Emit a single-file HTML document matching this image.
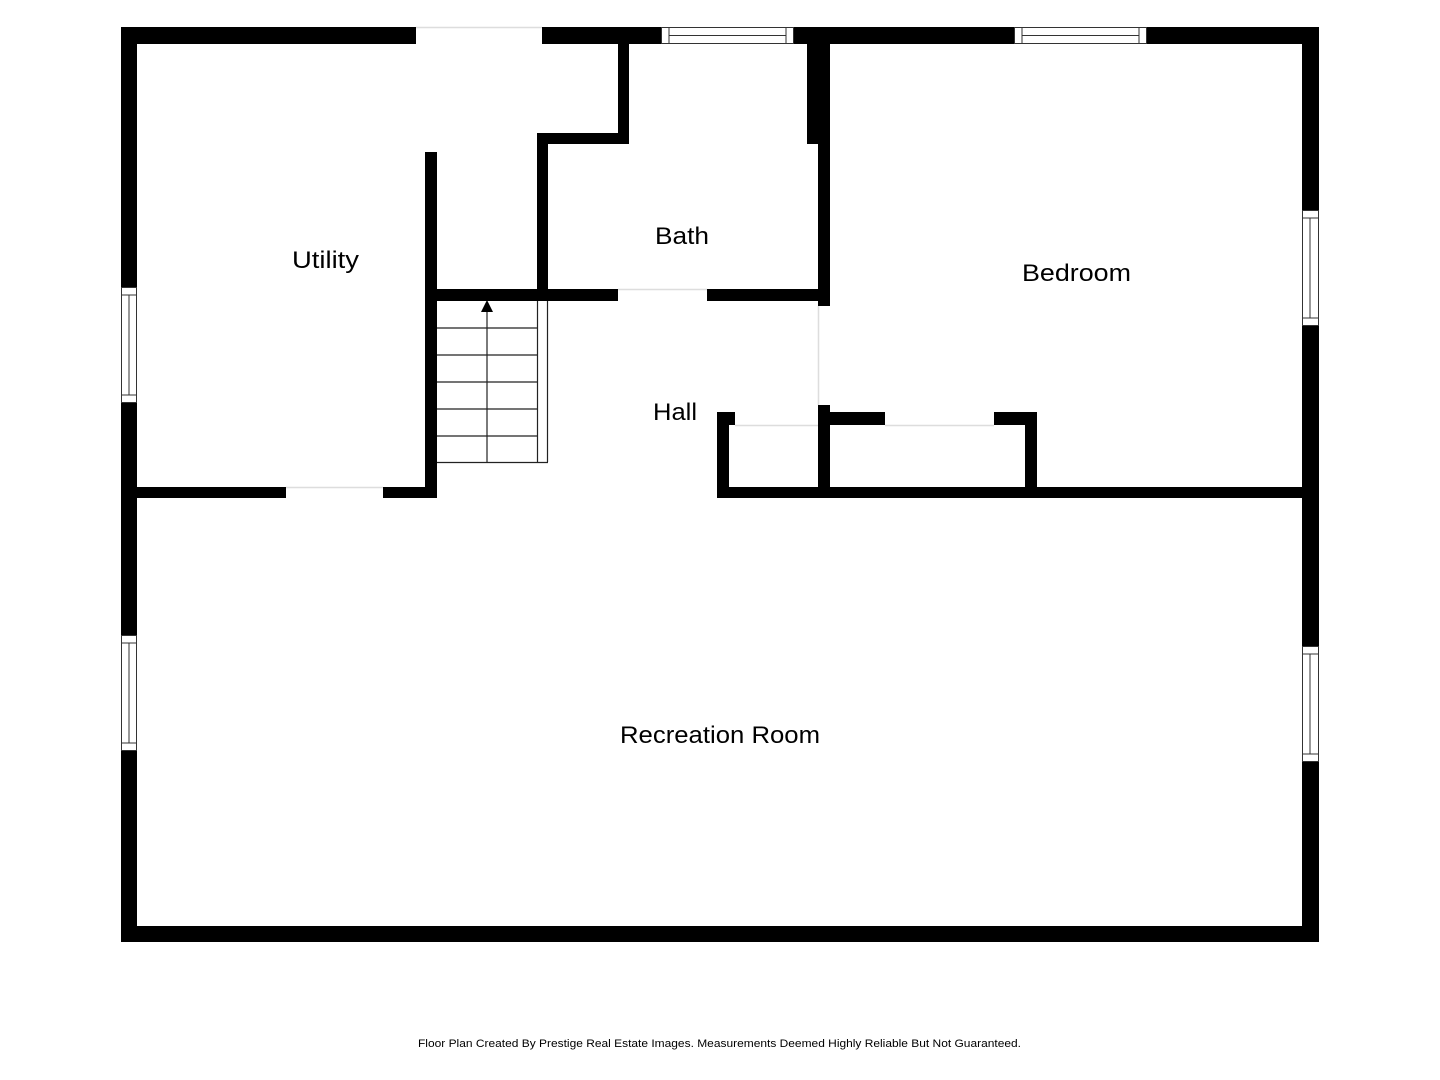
<!DOCTYPE html>
<html><head><meta charset="utf-8"><style>
html,body{margin:0;padding:0;background:#fff;}
svg{display:block;}
text{font-family:"Liberation Sans",sans-serif;fill:#000;}
</style></head><body>
<svg width="1440" height="1080" viewBox="0 0 1440 1080" xmlns="http://www.w3.org/2000/svg">
<rect width="1440" height="1080" fill="#fff"/>
<g fill="#000">
<rect x="121" y="27" width="1198" height="17"/>
<rect x="121" y="926" width="1198" height="16"/>
<rect x="121" y="27" width="16" height="915"/>
<rect x="1302" y="27" width="17" height="915"/>
<rect x="425" y="152" width="12" height="346"/>
<rect x="137" y="487" width="300" height="11"/>
<rect x="425" y="289" width="193" height="12"/>
<rect x="707" y="289" width="122" height="12"/>
<rect x="618" y="44" width="11" height="100"/>
<rect x="537" y="133" width="92" height="11"/>
<rect x="537" y="133" width="11" height="168"/>
<rect x="807" y="44" width="23" height="100"/>
<rect x="818" y="144" width="12" height="162"/>
<rect x="717" y="412" width="18" height="13"/>
<rect x="717" y="412" width="12" height="86"/>
<rect x="717" y="487" width="585" height="11"/>
<rect x="818" y="405" width="12" height="93"/>
<rect x="830" y="412" width="55" height="13"/>
<rect x="994" y="412" width="43" height="13"/>
<rect x="1025" y="412" width="12" height="86"/>
</g>
<g fill="#fff">
<rect x="416" y="26" width="126" height="19"/>
<rect x="286" y="486" width="97" height="13"/>
<rect x="618" y="288" width="89" height="14"/>
</g>
<g stroke="#ddd" stroke-width="1.5" fill="none">
<line x1="416" y1="27.5" x2="542" y2="27.5"/>
<line x1="286" y1="487.5" x2="383" y2="487.5"/>
<line x1="618" y1="289.5" x2="707" y2="289.5"/>
<line x1="818.5" y1="306" x2="818.5" y2="405"/>
<line x1="735" y1="425.5" x2="818" y2="425.5"/>
<line x1="885" y1="425.5" x2="994" y2="425.5"/>
</g>
<g fill="#fff" stroke="#333" stroke-width="1">
<rect x="661.5" y="27.5" width="132" height="16"/>
<line x1="669" y1="27.5" x2="669" y2="43.5"/>
<line x1="786" y1="27.5" x2="786" y2="43.5"/>
<line x1="669" y1="35.5" x2="786" y2="35.5"/>
<rect x="1014.5" y="27.5" width="132" height="16"/>
<line x1="1022" y1="27.5" x2="1022" y2="43.5"/>
<line x1="1139" y1="27.5" x2="1139" y2="43.5"/>
<line x1="1022" y1="35.5" x2="1139" y2="35.5"/>
</g>
<g fill="#fff" stroke="#333" stroke-width="1">
<rect x="121.5" y="287.5" width="15" height="115"/>
<line x1="121.5" y1="295" x2="136.5" y2="295"/>
<line x1="121.5" y1="395" x2="136.5" y2="395"/>
<line x1="129" y1="295" x2="129" y2="395"/>
<rect x="121.5" y="635.5" width="15" height="115"/>
<line x1="121.5" y1="643" x2="136.5" y2="643"/>
<line x1="121.5" y1="743" x2="136.5" y2="743"/>
<line x1="129" y1="643" x2="129" y2="743"/>
<rect x="1302.5" y="210.5" width="16" height="115"/>
<line x1="1302.5" y1="218" x2="1318.5" y2="218"/>
<line x1="1302.5" y1="318" x2="1318.5" y2="318"/>
<line x1="1310" y1="218" x2="1310" y2="318"/>
<rect x="1302.5" y="646.5" width="16" height="115"/>
<line x1="1302.5" y1="654" x2="1318.5" y2="654"/>
<line x1="1302.5" y1="754" x2="1318.5" y2="754"/>
<line x1="1310" y1="654" x2="1310" y2="754"/>
</g>
<g stroke="#222" stroke-width="1.2" fill="none">
<line x1="437" y1="328" x2="537" y2="328"/>
<line x1="437" y1="355" x2="537" y2="355"/>
<line x1="437" y1="382" x2="537" y2="382"/>
<line x1="437" y1="409" x2="537" y2="409"/>
<line x1="437" y1="436" x2="537" y2="436"/>
<line x1="437" y1="462.5" x2="548" y2="462.5"/>
<line x1="537.5" y1="301" x2="537.5" y2="462"/>
<line x1="547.5" y1="301" x2="547.5" y2="462"/>
<line x1="487" y1="310" x2="487" y2="462"/>
</g>
<polygon points="487,300 481,312 493,312" fill="#000"/>
<g font-size="24">
<text x="292" y="268" textLength="67" lengthAdjust="spacingAndGlyphs">Utility</text>
<text x="655" y="244" textLength="54" lengthAdjust="spacingAndGlyphs">Bath</text>
<text x="1022" y="281" textLength="109" lengthAdjust="spacingAndGlyphs">Bedroom</text>
<text x="653" y="420" textLength="44" lengthAdjust="spacingAndGlyphs">Hall</text>
<text x="620" y="743" textLength="200" lengthAdjust="spacingAndGlyphs">Recreation Room</text>
</g>
<text x="418" y="1047" font-size="11" textLength="603" lengthAdjust="spacingAndGlyphs">Floor Plan Created By Prestige Real Estate Images. Measurements Deemed Highly Reliable But Not Guaranteed.</text>
</svg>
</body></html>
